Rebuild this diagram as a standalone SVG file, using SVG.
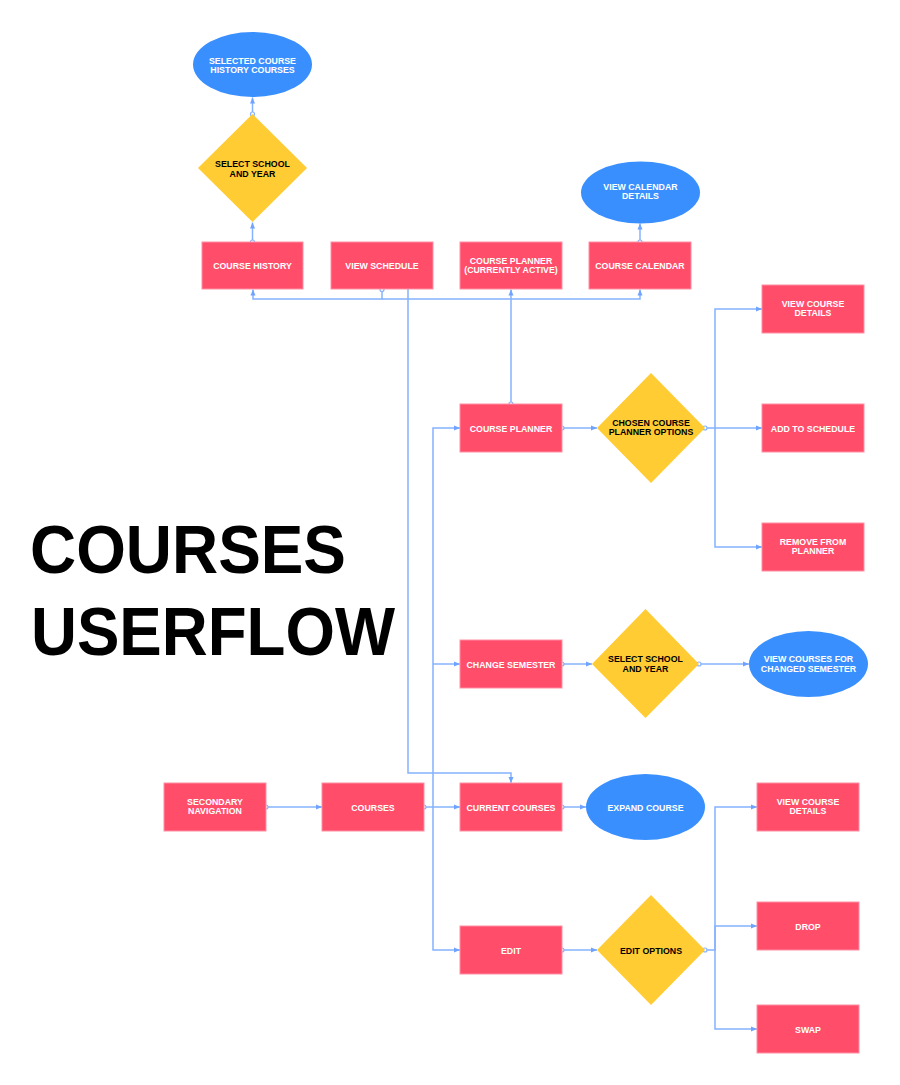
<svg xmlns="http://www.w3.org/2000/svg" width="900" height="1085" viewBox="0 0 900 1085">
<defs>
<style>
.r{fill:#FF4D6A;stroke:#FF8FA2;stroke-width:1}
.e{fill:#3A8FFF}
.d{fill:#FFCC33}
.t{font-family:"Liberation Sans",Arial,sans-serif;font-weight:bold;font-size:8.8px;text-anchor:middle;fill:#fff}
.k{fill:#000}
.c{fill:none;stroke:#85B3FF;stroke-width:1.5;marker-end:url(#ar)}
.s{fill:#fff;stroke:#85B3FF;stroke-width:1.2}
.title{font-family:"Liberation Sans",Arial,sans-serif;font-weight:bold;font-size:69px;fill:#000}
</style>
<marker id="ar" markerUnits="userSpaceOnUse" markerWidth="8" markerHeight="8" viewBox="0 0 8 8" refX="7" refY="4" orient="auto">
<path d="M1,1.5 L7,4 L1,6.5 Z" fill="#6FA3FF"/>
</marker>
</defs>
<rect width="900" height="1085" fill="#fff"/>

<g id="connectors">
<path class="c" d="M252.5,114 V97.5"/>
<path class="c" d="M252.5,242 V222.5"/>
<path class="c" d="M640,242 V223.5"/>
<path class="c" d="M382,289 V299 H253 V289.5"/>
<path class="c" d="M382,299 H640 V289.5"/>
<path class="c" d="M511,404 V289.5"/>
<path class="c" d="M408,289 V773 H511 V783"/>
<path class="c" d="M266,807 H322"/>
<path class="c" d="M424,807 H460"/>
<path class="c" d="M433,807 V428 H460"/>
<path class="c" d="M433,664 H460"/>
<path class="c" d="M433,807 V950 H460"/>
<path class="c" d="M562,428 H597"/>
<path class="c" d="M705,428 H715 V309 H762"/>
<path class="c" d="M715,428 H762"/>
<path class="c" d="M715,428 V547 H762"/>
<path class="c" d="M562,664 H592"/>
<path class="c" d="M699,664 H749"/>
<path class="c" d="M562,807 H586"/>
<path class="c" d="M562,950 H597"/>
<path class="c" d="M705,950 H715 V807 H757"/>
<path class="c" d="M715,950 V926 H757"/>
<path class="c" d="M715,950 V1029 H757"/>
<circle class="s" cx="252.5" cy="114" r="2"/>
<circle class="s" cx="252.5" cy="242" r="2"/>
<circle class="s" cx="640" cy="242" r="2"/>
<circle class="s" cx="382" cy="289.5" r="2"/>
<circle class="s" cx="511" cy="404" r="2"/>
<circle class="s" cx="266" cy="807" r="2"/>
<circle class="s" cx="424" cy="807" r="2"/>
<circle class="s" cx="562" cy="428" r="2"/>
<circle class="s" cx="705" cy="428" r="2"/>
<circle class="s" cx="562" cy="664" r="2"/>
<circle class="s" cx="699" cy="664" r="2"/>
<circle class="s" cx="562" cy="807" r="2"/>
<circle class="s" cx="562" cy="950" r="2"/>
<circle class="s" cx="705" cy="950" r="2"/>
</g>

<g id="title">
<text class="title" x="30" y="573" textLength="316" lengthAdjust="spacingAndGlyphs">COURSES</text>
<text class="title" x="31" y="655" textLength="364" lengthAdjust="spacingAndGlyphs">USERFLOW</text>
</g>

<g id="selected-course-history">
<ellipse class="e" cx="252.5" cy="64.5" rx="59.5" ry="32.5"/>
<text class="t" x="252.5" y="63.5">SELECTED COURSE</text>
<text class="t" x="252.5" y="72.5">HISTORY COURSES</text>
</g>
<g id="select-school-year-1">
<polygon class="d" points="252.5,114 307,168 252.5,222 198,168"/>
<text class="t k" x="252.5" y="167.3">SELECT SCHOOL</text>
<text class="t k" x="252.5" y="176.7">AND YEAR</text>
</g>
<g id="view-calendar-details">
<ellipse class="e" cx="640.5" cy="192.5" rx="59.5" ry="31"/>
<text class="t" x="640.5" y="190">VIEW CALENDAR</text>
<text class="t" x="640.5" y="199">DETAILS</text>
</g>
<g id="course-history">
<rect class="r" x="202" y="242" width="101" height="47"/>
<text class="t" x="252.5" y="269">COURSE HISTORY</text>
</g>
<g id="view-schedule">
<rect class="r" x="331" y="242" width="102" height="47"/>
<text class="t" x="382" y="269">VIEW SCHEDULE</text>
</g>
<g id="course-planner-active">
<rect class="r" x="460" y="242" width="102" height="47"/>
<text class="t" x="511" y="264">COURSE PLANNER</text>
<text class="t" x="511" y="273">(CURRENTLY ACTIVE)</text>
</g>
<g id="course-calendar">
<rect class="r" x="589" y="242" width="102" height="47"/>
<text class="t" x="640" y="269">COURSE CALENDAR</text>
</g>
<g id="view-course-details-1">
<rect class="r" x="762" y="285" width="102" height="48"/>
<text class="t" x="813" y="307">VIEW COURSE</text>
<text class="t" x="813" y="316">DETAILS</text>
</g>
<g id="course-planner">
<rect class="r" x="460" y="404" width="102" height="48"/>
<text class="t" x="511" y="431.5">COURSE PLANNER</text>
</g>
<g id="chosen-course-planner-options">
<polygon class="d" points="651,373 705,428 651,483 597,428"/>
<text class="t k" x="651" y="425.7">CHOSEN COURSE</text>
<text class="t k" x="651" y="435">PLANNER OPTIONS</text>
</g>
<g id="add-to-schedule">
<rect class="r" x="762" y="404" width="102" height="48"/>
<text class="t" x="813" y="431.5">ADD TO SCHEDULE</text>
</g>
<g id="remove-from-planner">
<rect class="r" x="762" y="523" width="102" height="48"/>
<text class="t" x="813" y="545">REMOVE FROM</text>
<text class="t" x="813" y="554">PLANNER</text>
</g>
<g id="change-semester">
<rect class="r" x="460" y="640" width="102" height="48"/>
<text class="t" x="511" y="667.5">CHANGE SEMESTER</text>
</g>
<g id="select-school-year-2">
<polygon class="d" points="645.5,609 699,664 645.5,718 592,664"/>
<text class="t k" x="645.5" y="662.3">SELECT SCHOOL</text>
<text class="t k" x="645.5" y="671.5">AND YEAR</text>
</g>
<g id="view-courses-changed-semester">
<ellipse class="e" cx="808.5" cy="664" rx="59.5" ry="33"/>
<text class="t" x="808.5" y="662.3">VIEW COURSES FOR</text>
<text class="t" x="808.5" y="671.5">CHANGED SEMESTER</text>
</g>
<g id="secondary-navigation">
<rect class="r" x="164" y="783" width="102" height="48"/>
<text class="t" x="215" y="804.5">SECONDARY</text>
<text class="t" x="215" y="813.5">NAVIGATION</text>
</g>
<g id="courses">
<rect class="r" x="322" y="783" width="102" height="48"/>
<text class="t" x="373" y="810.5">COURSES</text>
</g>
<g id="current-courses">
<rect class="r" x="460" y="783" width="102" height="48"/>
<text class="t" x="511" y="810.5">CURRENT COURSES</text>
</g>
<g id="expand-course">
<ellipse class="e" cx="645.5" cy="807" rx="59.5" ry="33"/>
<text class="t" x="645.5" y="810.5">EXPAND COURSE</text>
</g>
<g id="view-course-details-2">
<rect class="r" x="757" y="783" width="102" height="48"/>
<text class="t" x="808" y="805">VIEW COURSE</text>
<text class="t" x="808" y="814">DETAILS</text>
</g>
<g id="edit">
<rect class="r" x="460" y="926" width="102" height="48"/>
<text class="t" x="511" y="953.5">EDIT</text>
</g>
<g id="edit-options">
<polygon class="d" points="651,895 705,950 651,1005 597,950"/>
<text class="t k" x="651" y="953.5">EDIT OPTIONS</text>
</g>
<g id="drop">
<rect class="r" x="757" y="902" width="102" height="48"/>
<text class="t" x="808" y="929.5">DROP</text>
</g>
<g id="swap">
<rect class="r" x="757" y="1005" width="102" height="48"/>
<text class="t" x="808" y="1032.5">SWAP</text>
</g>
</svg>
